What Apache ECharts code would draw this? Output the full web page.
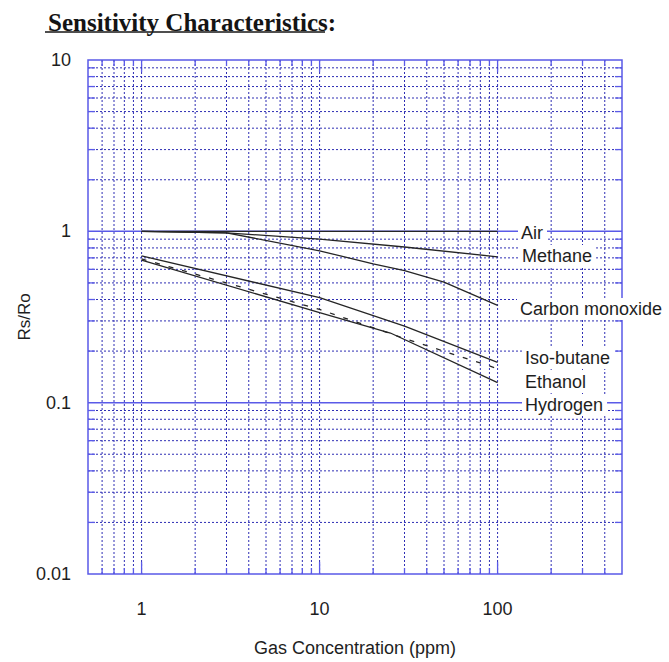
<!DOCTYPE html>
<html>
<head>
<meta charset="utf-8">
<script src="https://cdn.jsdelivr.net/npm/echarts@6/dist/echarts.min.js"></script>
<style>
  html, body { margin: 0; padding: 0; background: #ffffff; }
  #chart { width: 669px; height: 662px; }
</style>
</head>
<body>
<div id="chart"></div>
<script>
// ---- Data ----
const X_MIN = 0.5, X_MAX = 500;
const Y_MIN = 0.01, Y_MAX = 10;

const xTickValues = [1, 10, 100];
const xTickLabels = ['1', '10', '100'];
const yTickValues = [0.01, 0.1, 1, 10];
const yTickLabels = ['0.01', '0.1', '1', '10'];

const xGridValues = [0.6, 0.7, 0.8, 0.9, 1, 2, 3, 4, 5, 6, 7, 8, 9, 10,
  20, 30, 40, 50, 60, 70, 80, 90, 100, 200, 300, 400];
const yGridValues = [0.02, 0.03, 0.04, 0.05, 0.06, 0.07, 0.08, 0.09, 0.1,
  0.2, 0.3, 0.4, 0.5, 0.6, 0.7, 0.8, 0.9, 1, 2, 3, 4, 5, 6, 7, 8, 9];
const yMajorValues = [0.1, 1];

const airX = [1, 100];
const airY = [1, 1];
const methaneX = [1, 3, 10, 30, 100];
const methaneY = [1, 0.98, 0.9, 0.81, 0.71];
const coX = [1, 3, 10, 20, 30, 50, 100];
const coY = [1, 0.98, 0.77, 0.645, 0.59, 0.505, 0.37];
const isoButaneX = [1, 10, 30, 100];
const isoButaneY = [0.72, 0.41, 0.28, 0.172];
const ethanolX = [1, 3, 10, 30, 100];
const ethanolY = [0.69, 0.50, 0.35, 0.237, 0.158];
const hydrogenX = [1, 10, 25, 100];
const hydrogenY = [0.68, 0.335, 0.255, 0.131];

const seriesNames = ['Air', 'Methane', 'Carbon monoxide', 'Iso-butane', 'Ethanol', 'Hydrogen'];

// ---- Styling ----
const GRID_DOT = '#2e2eb4';
const BORDER = '#5a5ae8';
const CURVE = '#262626';
const FONT = 'Liberation Sans, Arial, Helvetica, sans-serif';

function zip(xs, ys) { return xs.map((x, i) => [x, ys[i]]); }
function isDecade(v) { const l = Math.log10(v); return Math.abs(l - Math.round(l)) < 1e-9; }
function sameVal(a, b) { return Math.abs(Math.log10(a) - Math.log10(b)) < 1e-6; }

function renderVGrid(params, api) {
  const v = api.value(0);
  const top = api.coord([v, Y_MAX]);
  const bot = api.coord([v, Y_MIN]);
  const L = isDecade(v) ? 12 : 6;
  return {
    type: 'group',
    children: [
      { type: 'line', shape: { x1: top[0], y1: top[1], x2: bot[0], y2: bot[1] },
        style: { stroke: GRID_DOT, lineWidth: 1, lineDash: [2, 2] } },
      { type: 'line', shape: { x1: top[0], y1: top[1], x2: top[0], y2: top[1] + L },
        style: { stroke: BORDER, lineWidth: 1.3 } },
      { type: 'line', shape: { x1: bot[0], y1: bot[1], x2: bot[0], y2: bot[1] - L },
        style: { stroke: BORDER, lineWidth: 1.3 } }
    ]
  };
}

function renderHGrid(params, api) {
  const v = api.value(1);
  const left = api.coord([X_MIN, v]);
  const right = api.coord([X_MAX, v]);
  const major = yMajorValues.some(m => sameVal(m, v));
  const L = 7;
  const children = [];
  if (major) {
    children.push({ type: 'line', shape: { x1: left[0], y1: left[1], x2: right[0], y2: right[1] },
      style: { stroke: BORDER, lineWidth: 1.5 } });
  } else {
    children.push({ type: 'line', shape: { x1: left[0], y1: left[1], x2: right[0], y2: right[1] },
      style: { stroke: GRID_DOT, lineWidth: 1, lineDash: [2, 2] } });
    children.push({ type: 'line', shape: { x1: left[0], y1: left[1], x2: left[0] + L, y2: left[1] },
      style: { stroke: BORDER, lineWidth: 1.3 } });
    children.push({ type: 'line', shape: { x1: right[0], y1: right[1], x2: right[0] - L, y2: right[1] },
      style: { stroke: BORDER, lineWidth: 1.3 } });
  }
  return { type: 'group', children };
}

function curve(name, xs, ys, dashed) {
  return {
    name, type: 'line', data: zip(xs, ys), showSymbol: false, symbol: 'none',
    silent: true, z: 10,
    lineStyle: { color: CURVE, width: 1.3, type: dashed ? [5, 9] : 'solid' }
  };
}

function labelText(text, left, centerY) {
  return {
    type: 'text', left: left, top: centerY - 11, z: 100,
    style: {
      text: text, fill: '#1e1e1e', font: '18px ' + FONT,
      backgroundColor: '#ffffff', padding: [2, 4, 2, 3]
    }
  };
}

const chart = echarts.init(document.getElementById('chart'), null, { renderer: 'svg' });

const option = {
  animation: false,
  backgroundColor: '#ffffff',
  title: {
    text: 'Sensitivity Characteristics:',
    left: 43, top: 5,
    textStyle: { fontFamily: 'Liberation Serif, Times New Roman, serif', fontWeight: 'bold',
      fontSize: 25, color: '#141414' }
  },
  grid: {
    left: 88, right: 47, top: 60, bottom: 83,
    show: true, borderColor: BORDER, borderWidth: 1.5, backgroundColor: 'transparent'
  },
  xAxis: {
    type: 'log', logBase: 10, min: X_MIN, max: X_MAX,
    axisLine: { show: false }, axisTick: { show: false }, splitLine: { show: false },
    axisLabel: {
      margin: 26, color: '#1e1e1e', fontSize: 18, fontFamily: FONT,
      showMinLabel: false, showMaxLabel: false,
      formatter: function (v) {
        const i = xTickValues.findIndex(t => sameVal(t, v));
        return i >= 0 ? xTickLabels[i] : '';
      }
    },
    name: 'Gas Concentration (ppm)', nameLocation: 'middle', nameGap: 65,
    nameMoveOverlap: false,
    nameTextStyle: { fontSize: 18, color: '#1e1e1e', fontFamily: FONT }
  },
  yAxis: {
    type: 'log', logBase: 10, min: Y_MIN, max: Y_MAX,
    axisLine: { show: false }, axisTick: { show: false }, splitLine: { show: false },
    axisLabel: {
      margin: 17, color: '#1e1e1e', fontSize: 18, fontFamily: FONT,
      formatter: function (v) {
        const i = yTickValues.findIndex(t => sameVal(t, v));
        return i >= 0 ? yTickLabels[i] : '';
      }
    },
    name: 'Rs/Ro', nameLocation: 'middle', nameGap: 55, nameRotate: 90,
    nameMoveOverlap: false,
    nameTextStyle: { fontSize: 17, color: '#1e1e1e', fontFamily: FONT }
  },
  graphic: [
    { type: 'line', z: 100, shape: { x1: 45, y1: 32, x2: 325, y2: 32 },
      style: { stroke: '#141414', lineWidth: 1.5 } },
    labelText(seriesNames[0], 518, 233),
    labelText(seriesNames[1], 519, 256),
    labelText(seriesNames[2], 517, 309),
    labelText(seriesNames[3], 522, 358),
    labelText(seriesNames[4], 522, 382),
    labelText(seriesNames[5], 522, 405)
  ],
  series: [
    { type: 'custom', silent: true, z: 1, renderItem: renderVGrid,
      data: xGridValues.map(v => [v, 1]), encode: { x: 0, y: 1 } },
    { type: 'custom', silent: true, z: 2, renderItem: renderHGrid,
      data: yGridValues.map(v => [1, v]), encode: { x: 0, y: 1 } },
    curve(seriesNames[0], airX, airY, false),
    curve(seriesNames[1], methaneX, methaneY, false),
    curve(seriesNames[2], coX, coY, false),
    curve(seriesNames[3], isoButaneX, isoButaneY, false),
    curve(seriesNames[4], ethanolX, ethanolY, true),
    curve(seriesNames[5], hydrogenX, hydrogenY, false)
  ]
};

chart.setOption(option);
</script>
</body>
</html>
